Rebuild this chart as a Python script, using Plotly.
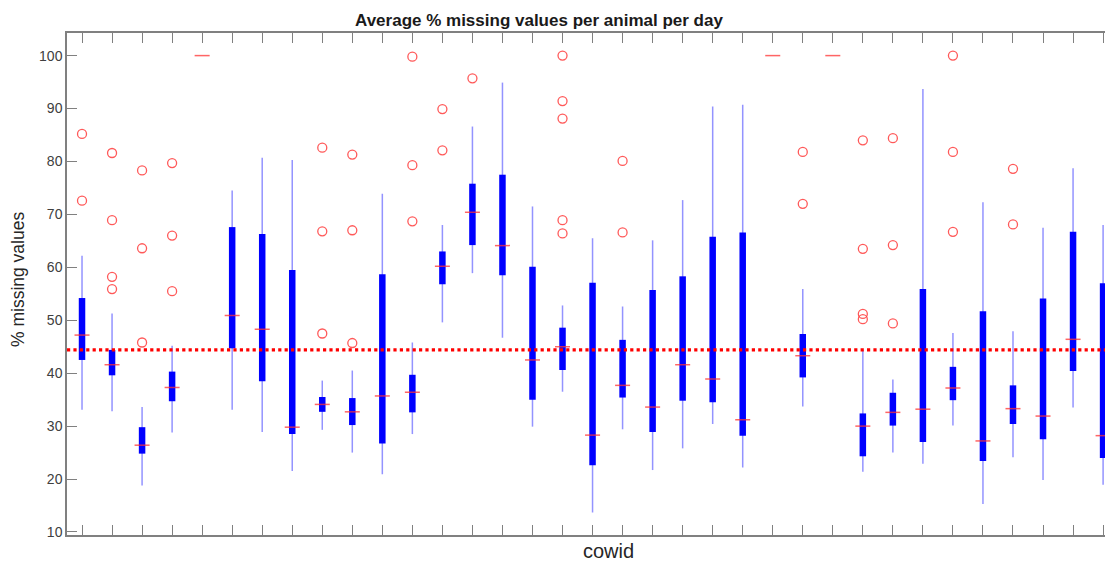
import plotly.graph_objects as go

# ---- data ----
cowid = list(range(1, 36))
whisker_lo = [33.1, 32.8, 18.8, 28.8, 100, 33.1, 28.9, 21.5, 29.3, 25.0,
              20.9, 28.5, 49.6, 58.9, 46.7, 29.9, 36.5, 13.7, 29.4, 21.7,
              25.8, 30.4, 22.2, 100, 33.7, 100, 21.4, 25.0, 22.9, 30.1,
              15.3, 24.1, 19.8, 33.5, 18.9]
q1 = [42.5, 39.6, 24.8, 34.7, 100, 44.7, 38.5, 28.5, 32.7, 30.2,
      26.7, 32.6, 56.8, 64.2, 58.5, 35.0, 40.6, 22.6, 35.4, 28.9,
      34.8, 34.5, 28.2, 100, 39.2, 100, 24.3, 30.1, 27.0, 34.9,
      23.4, 30.4, 27.5, 40.4, 24.0]
median = [47.2, 41.6, 26.4, 37.3, 100, 50.9, 48.3, 29.8, 34.1, 32.7,
          35.7, 36.4, 60.2, 70.4, 64.1, 42.5, 45.0, 28.3, 37.7, 33.6,
          41.6, 38.9, 31.2, 100, 43.3, 100, 30.0, 32.6, 33.2, 37.2,
          27.2, 33.3, 31.9, 46.4, 28.2]
q3 = [54.2, 44.4, 29.8, 40.3, 100, 67.6, 66.3, 59.5, 35.5, 35.3,
      58.7, 39.7, 63.0, 75.8, 77.5, 60.1, 48.6, 57.1, 46.3, 55.7,
      58.3, 65.8, 66.6, 100, 47.4, 100, 32.4, 36.3, 55.9, 41.2,
      51.7, 37.7, 54.1, 66.7, 57.0]
whisker_hi = [62.2, 51.3, 33.6, 45.2, 100, 74.5, 80.7, 80.3, 38.6, 40.5,
              73.9, 45.8, 68.0, 86.6, 94.9, 71.5, 52.8, 65.5, 52.6, 65.1,
              72.7, 90.4, 90.7, 100, 55.9, 100, 44.4, 38.8, 93.7, 47.6,
              72.3, 47.9, 67.5, 78.7, 68.0]
outliers = [
    [85.2, 72.6], [81.6, 68.9, 58.2, 55.9], [78.3, 63.6, 45.8], [79.7, 66.0, 55.5], [],
    [], [], [], [82.6, 66.8, 47.5], [81.3, 67.0, 45.7],
    [], [99.8, 79.3, 68.7], [89.9, 82.1], [95.7], [],
    [], [100.0, 91.4, 88.1, 68.9, 66.4], [], [80.1, 66.6], [],
    [], [], [], [], [81.8, 72.0],
    [], [84.0, 63.5, 51.2, 50.2], [84.4, 64.2, 49.4], [], [100.0, 81.8, 66.7],
    [], [78.6, 68.1], [], [], [],
]
threshold = 44.4
y_ticks = [10, 20, 30, 40, 50, 60, 70, 80, 90, 100]

# ---- build segment traces ----
wx, wy, bx, by, mx, my, ox, oy = [], [], [], [], [], [], [], []
for i, c in enumerate(cowid):
    wx += [c, c, None]; wy += [whisker_lo[i], whisker_hi[i], None]
    bx += [c, c, None]; by += [q1[i], q3[i], None]
    mx += [c - 0.25, c + 0.25, None]; my += [median[i], median[i], None]
    for v in outliers[i]:
        ox.append(c); oy.append(v)

fig = go.Figure()
fig.add_trace(go.Scatter(x=wx, y=wy, mode="lines", line=dict(color="rgba(40,40,255,0.5)", width=1.5),
                         hoverinfo="skip", showlegend=False))
fig.add_trace(go.Scatter(x=bx, y=by, mode="lines", line=dict(color="#0000ff", width=6.5),
                         hoverinfo="skip", showlegend=False))
fig.add_trace(go.Scatter(x=mx, y=my, mode="lines", line=dict(color="rgba(255,50,50,0.75)", width=1.5),
                         hoverinfo="skip", showlegend=False))
fig.add_trace(go.Scatter(x=ox, y=oy, mode="markers",
                         marker=dict(symbol="circle-open", size=9, color="rgba(255,60,60,0.85)",
                                     line=dict(width=1.3)),
                         hoverinfo="skip", showlegend=False))
# invisible trace to activate right-side tick axis
fig.add_trace(go.Scatter(x=[1], y=[50], yaxis="y2", mode="markers", marker=dict(opacity=0),
                         hoverinfo="skip", showlegend=False))

fig.add_shape(type="line", xref="paper", x0=0, x1=1, yref="y", y0=threshold, y1=threshold,
              line=dict(color="#ff0000", width=3.2, dash="dot"))

axis_color = "#808080"
# the page body has an 8px margin, so the figure is laid out 8px smaller / shifted
fig.update_layout(
    width=1105, height=557,
    margin=dict(l=59, r=0, t=25, b=30, autoexpand=False),
    paper_bgcolor="white", plot_bgcolor="white",
    font=dict(family="Liberation Sans, Arial, sans-serif", color="#333333"),
    xaxis=dict(range=[0.5, 35.33], tickvals=cowid, showticklabels=False,
               ticks="inside", ticklen=10, tickcolor=axis_color, tickwidth=1.3,
               showline=True, linecolor=axis_color, linewidth=1.5, mirror="ticks",
               showgrid=False, zeroline=False, automargin=False),
    yaxis=dict(range=[9.43, 104.27], tickvals=y_ticks,
               ticks="inside", ticklen=10, tickcolor=axis_color, tickwidth=1.3,
               showline=True, linecolor=axis_color, linewidth=1.5,
               showgrid=False, zeroline=False, automargin=False,
               tickfont=dict(size=14, color="#404040")),
    yaxis2=dict(range=[9.43, 104.27], tickvals=y_ticks, overlaying="y", side="right",
                ticks="inside", ticklen=5, tickcolor=axis_color, tickwidth=1.3,
                showticklabels=False, showline=False, showgrid=False, zeroline=False,
                automargin=False),
    annotations=[
        dict(text="<b>Average % missing values per animal per day</b>", xref="paper", yref="paper",
             x=(539 - 67) / 1046, y=1, yshift=13, xanchor="center", yanchor="middle",
             showarrow=False, font=dict(size=17, color="#1a1a1a")),
        dict(text="cowid", xref="paper", yref="paper", x=(608 - 67) / 1046, y=0, yshift=-16,
             xanchor="center", yanchor="middle", showarrow=False,
             font=dict(size=20, color="#262626")),
        dict(text="% missing values", xref="paper", yref="paper", x=0, xshift=-49,
             y=(535 - 280) / 502, xanchor="center", yanchor="middle", textangle=-90,
             showarrow=False, font=dict(size=17.5, color="#262626")),
    ],
)

fig.write_html("out.html")
